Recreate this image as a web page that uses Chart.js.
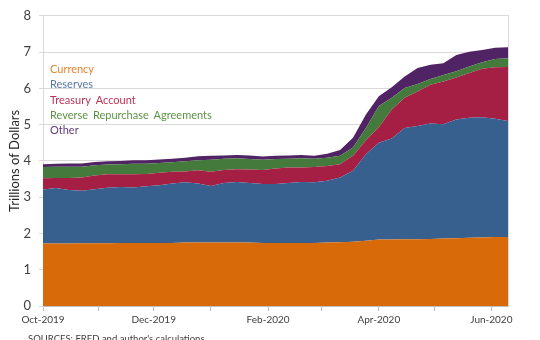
<!DOCTYPE html>
<html>
<head>
<meta charset="utf-8">
<script src="https://cdn.jsdelivr.net/npm/chart.js@4.4.1/dist/chart.umd.min.js"></script>
<style>
  html, body { margin: 0; padding: 0; background: #fff; }
</style>
</head>
<body>
<canvas id="chart" width="540" height="340"></canvas>
<script>
// Fed liabilities, weekly (Wednesday) levels, trillions of dollars
const weeks = [
  '2019-10-02', '2019-10-09', '2019-10-16', '2019-10-23', '2019-10-30',
  '2019-11-06', '2019-11-13', '2019-11-20', '2019-11-27',
  '2019-12-04', '2019-12-11', '2019-12-18', '2019-12-25',
  '2020-01-01', '2020-01-08', '2020-01-15', '2020-01-22', '2020-01-29',
  '2020-02-05', '2020-02-12', '2020-02-19', '2020-02-26',
  '2020-03-04', '2020-03-11', '2020-03-18', '2020-03-25',
  '2020-04-01', '2020-04-08', '2020-04-15', '2020-04-22', '2020-04-29',
  '2020-05-06', '2020-05-13', '2020-05-20', '2020-05-27',
  '2020-06-03', '2020-06-10'
];

const seriesNames = ['Currency', 'Reserves', 'Treasury Account', 'Reverse Repurchase Agreements', 'Other'];

const currency = [1.72, 1.72, 1.72, 1.73, 1.73, 1.73, 1.74, 1.74, 1.74, 1.74, 1.74, 1.75, 1.75,
  1.75, 1.75, 1.75, 1.75, 1.74, 1.74, 1.74, 1.74, 1.74, 1.75, 1.76, 1.77, 1.80,
  1.83, 1.83, 1.84, 1.84, 1.85, 1.86, 1.87, 1.88, 1.89, 1.90, 1.90];
const reserves = [1.49, 1.53, 1.48, 1.45, 1.49, 1.53, 1.54, 1.53, 1.56, 1.59, 1.64, 1.66, 1.63,
  1.56, 1.64, 1.67, 1.64, 1.62, 1.62, 1.65, 1.68, 1.67, 1.70, 1.78, 1.96, 2.38,
  2.67, 2.79, 3.07, 3.12, 3.18, 3.15, 3.27, 3.31, 3.31, 3.26, 3.20];
const treasury = [0.31, 0.28, 0.33, 0.36, 0.38, 0.37, 0.35, 0.36, 0.34, 0.34, 0.32, 0.30, 0.36,
  0.39, 0.36, 0.35, 0.37, 0.39, 0.43, 0.43, 0.40, 0.42, 0.41, 0.37, 0.41, 0.39,
  0.43, 0.80, 0.83, 0.95, 1.07, 1.18, 1.16, 1.23, 1.34, 1.42, 1.49];
const reverseRepo = [0.31, 0.31, 0.31, 0.30, 0.28, 0.27, 0.28, 0.29, 0.28, 0.27, 0.26, 0.28, 0.28,
  0.33, 0.31, 0.30, 0.29, 0.28, 0.26, 0.24, 0.25, 0.23, 0.23, 0.23, 0.23, 0.34,
  0.58, 0.32, 0.27, 0.21, 0.16, 0.18, 0.17, 0.18, 0.18, 0.23, 0.24];
const other = [0.08, 0.08, 0.09, 0.09, 0.09, 0.09, 0.09, 0.10, 0.10, 0.10, 0.10, 0.10, 0.11,
  0.11, 0.09, 0.09, 0.10, 0.09, 0.09, 0.09, 0.09, 0.08, 0.11, 0.16, 0.27, 0.37,
  0.27, 0.29, 0.32, 0.44, 0.39, 0.32, 0.45, 0.41, 0.34, 0.31, 0.30];

// x axis: tick at every month start, label every other month
const monthStarts = ['2019-10-01', '2019-11-01', '2019-12-01', '2020-01-01', '2020-02-01',
  '2020-03-01', '2020-04-01', '2020-05-01', '2020-06-01'];
const tickLabels = ['Oct-2019', '', 'Dec-2019', '', 'Feb-2020', '', 'Apr-2020', '', 'Jun-2020'];

const fillColors = ['#d86a0a', '#37608f', '#a51f45', '#447a3c', '#502364'];
const textColors = ['#e8852f', '#5577aa', '#bb3355', '#5c9346', '#5e3a78'];

const ORIGIN = Date.parse('2019-10-01');
const dayOf = s => (Date.parse(s) - ORIGIN) / 864e5;

const allSeries = [currency, reserves, treasury, reverseRepo, other];
const datasets = allSeries.map((vals, i) => ({
  label: seriesNames[i],
  data: vals.map((v, k) => ({ x: dayOf(weeks[k]), y: v })),
  backgroundColor: fillColors[i],
  borderColor: fillColors[i],
  borderWidth: 0,
  pointRadius: 0,
  tension: 0,
  fill: i === 0 ? 'origin' : '-1'
}));

// in-plot legend in coloured text, plus the source note
const overlay = {
  id: 'overlay',
  afterDatasetsDraw(chart) {
    const { ctx, chartArea } = chart;
    ctx.save();
    ctx.font = '11px Lato';
    ctx.textBaseline = 'middle';
    ctx.textAlign = 'left';
    if ('wordSpacing' in ctx) ctx.wordSpacing = '2px';
    chart.data.datasets.forEach((ds, i) => {
      ctx.fillStyle = textColors[i];
      ctx.fillText(ds.label, chartArea.left + 7, chartArea.top + 53.5 + i * 15.4);
    });
    if ('wordSpacing' in ctx) ctx.wordSpacing = '0px';
    ctx.font = '9.5px Lato';
    ctx.fillStyle = '#404040';
    ctx.textBaseline = 'top';
    ctx.fillText("SOURCES: FRED and author's calculations", 28, 334);
    ctx.restore();
  }
};

Chart.defaults.font.family = 'Lato, "Open Sans", sans-serif';

new Chart(document.getElementById('chart'), {
  type: 'line',
  data: { datasets },
  plugins: [overlay],
  options: {
    responsive: false,
    animation: false,
    devicePixelRatio: 1,
    layout: { padding: { left: 3, right: 32, top: 14, bottom: 0 } },
    plugins: { legend: { display: false }, tooltip: { enabled: false } },
    scales: {
      x: {
        type: 'linear',
        min: dayOf(weeks[0]),
        max: dayOf(weeks[weeks.length - 1]),
        afterBuildTicks: s => {
          s.ticks = monthStarts.map(d => ({ value: Math.max(dayOf(d), s.min) }));
        },
        ticks: {
          autoSkip: false,
          maxRotation: 0,
          padding: 3,
          color: '#404040',
          font: { size: 10 },
          callback: (v, i) => tickLabels[i]
        },
        grid: { drawOnChartArea: false, drawTicks: true, tickLength: 5, color: '#bfbfbf' },
        border: { color: '#bfbfbf' },
        afterFit: s => { s.height = 34; }
      },
      y: {
        stacked: true,
        min: 0,
        max: 8,
        ticks: { stepSize: 1, padding: 8, color: '#404040', font: { size: 13 } },
        grid: { color: '#d9d9d9', tickLength: 4 },
        border: { color: '#d9d9d9' },
        title: {
          display: true,
          text: 'Trillions of Dollars',
          color: '#262626',
          font: { size: 13 },
          padding: { top: 4, bottom: 0 }
        },
        afterFit: s => { s.width = 40; }
      },
      yRight: {
        position: 'right',
        min: 0,
        max: 8,
        ticks: { display: false },
        grid: { display: false, drawTicks: false },
        border: { color: '#d9d9d9' },
        afterFit: s => { s.width = 0; }
      }
    }
  }
});
</script>
</body>
</html>
